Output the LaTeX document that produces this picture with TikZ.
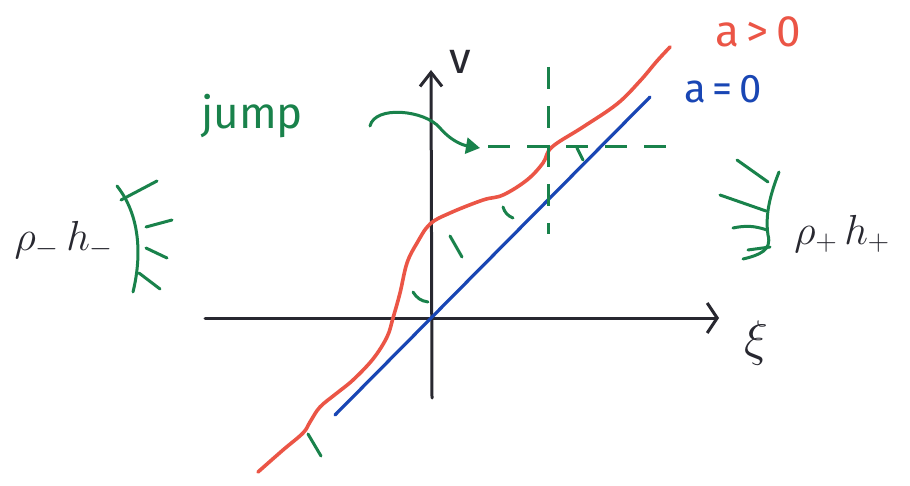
\RequirePackage{fix-cm}
\documentclass[tikz,border=0pt]{standalone}
\usepackage{fontspec}
\setsansfont{Fira Sans}
\usetikzlibrary{arrows.meta}
\definecolor{ink}{RGB}{40,40,48}
\definecolor{rd}{RGB}{235,85,70}
\definecolor{bl}{RGB}{25,70,180}
\definecolor{gr}{RGB}{25,130,75}
\tikzset{
  axis/.style={draw=ink,line width=3pt,line cap=round},
  xtip/.style={-{Straight Barb[length=10pt,width=30pt,line width=3pt]}},
  ytip/.style={-{Straight Barb[length=14pt,width=22pt,line width=3pt]}},
  curvered/.style={draw=rd,line width=3.6pt,line cap=round,line join=round},
  lineblue/.style={draw=bl,line width=3.2pt,line cap=round},
  grn/.style={draw=gr,line width=3pt,line cap=round},
  dsh/.style={draw=gr,line width=3pt,dash pattern=on 22pt off 17pt},
  lbl/.style={inner sep=0pt,anchor=center},
}
\begin{document}
\begin{tikzpicture}[x=1pt,y=-1pt]
\useasboundingbox[fill=white] (0,0) rectangle (910,486);
% axes
\coordinate (xl) at (205,318);
\coordinate (xr) at (719,318);
\coordinate (yb) at (432,398);
\coordinate (yt) at (431,70);
\coordinate (o) at (432,318);
\draw[axis,xtip] (xl) -- (xr);
\draw[axis,ytip] (yb) -- (yt);
\node[lbl,text=ink] (vlab) at (460,62) {\fontsize{44}{44}\selectfont\sffamily v};
\node[lbl,text=ink] (xilab) at (756,343) {\fontsize{50}{50}\selectfont$\xi$};
% blue line a=0
\coordinate (b1) at (335,415);
\coordinate (b2) at (650,97);
\draw[lineblue] (b1) -- (b2);
\node[lbl,text=bl] (a0) at (723,89) {\fontsize{40}{40}\selectfont\sffamily a\,=\,0};
% red curve a>0
\draw[curvered] plot[smooth,tension=0.6] coordinates {
 (258,472) (283,450) (303,433) (310,422) (320,407) (337,393) (353,380) (373,359)
 (387,337) (393,318) (400,293) (407,263) (417,243) (430,224) (450,213) (483,200)
 (503,195) (527,180) (543,163) (552,147) (583,127) (617,104) (640,81) (657,61) (670,47)};
\node[lbl,text=rd] (apos) at (758,32) {\fontsize{44}{44}\selectfont\sffamily a\,>\,0};
% green ticks between curves
\draw[grn] (308,434) -- (321,456);
\draw[grn] (413,292) to[bend right=25] (428,302);
\draw[grn] (450,236) -- (462,257);
\draw[grn] (503,207) to[bend right=25] (513,218);
\draw[grn] (577,148) -- (583,160);
% dashed jump lines
\coordinate (dh1) at (488,147);
\coordinate (dh2) at (675,147);
\coordinate (dv1) at (548,67);
\coordinate (dv2) at (548,234);
\draw[dsh] (dh1) -- (dh2);
\draw[dsh] (dv1) -- (dv2);
% jump label and arrow
\node[lbl,text=gr] (jump) at (252,116) {\fontsize{44}{44}\selectfont\sffamily jump};
\coordinate (j1) at (370,126);
\coordinate (j2) at (480,148);
\draw[grn,-{Triangle[length=14pt,width=16pt]}] (j1) .. controls (375,105) and (425,110) .. (440,128) .. controls (450,140) and (462,145) .. (j2);
% left boundary
\draw[grn] (117,186) .. controls (140,215) and (142,255) .. (133,292);
\draw[grn] (121,200) -- (157,181);
\draw[grn] (146,227) -- (172,220);
\draw[grn] (146,248) -- (167,258);
\draw[grn] (139,273) -- (160,289);
\node[lbl,text=ink] (lminus) at (64,240) {\fontsize{42}{42}\selectfont$\rho_{-}\,h_{-}$};
% right boundary
\draw[grn] (779,172) .. controls (770,195) and (765,215) .. (768,235) .. controls (772,250) and (760,255) .. (743,259);
\draw[grn] (737,160) -- (768,182);
\draw[grn] (720,195) -- (766,211);
\draw[grn] (733,228) to[bend left=15] (767,230);
\draw[grn] (748,250) -- (770,247);
\node[lbl,text=ink] (lplus) at (842,234) {\fontsize{42}{42}\selectfont$\rho_{+}\,h_{+}$};
\end{tikzpicture}
\end{document}
